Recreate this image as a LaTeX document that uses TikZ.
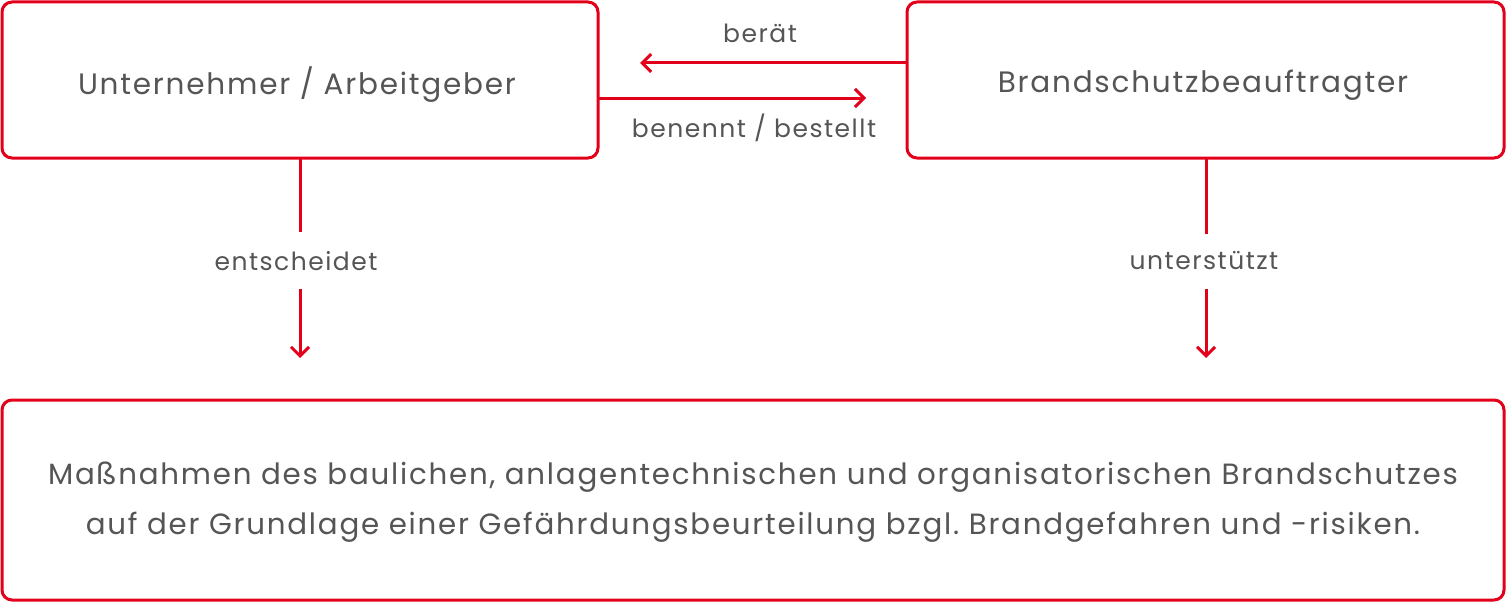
\documentclass[tikz,border=0pt]{standalone}
\usepackage{fontspec}
\setmainfont{Poppins}[LetterSpace=6]
\usetikzlibrary{arrows.meta}
\frenchspacing
\definecolor{bsred}{HTML}{E2001A}
\definecolor{bsgray}{HTML}{555555}
\tikzset{
  x=1pt, y=-1pt,
  boxstyle/.style={draw=bsred, line width=3pt, rounded corners=10pt},
  boxtext/.style={text=bsgray, font=\fontsize{29.5}{36}\selectfont},
  lbl/.style={text=bsgray, font=\fontsize{25}{30}\selectfont, inner sep=0pt},
  conn/.style={draw=bsred, line width=3pt},
  arr/.style={conn, -{Straight Barb[length=9pt,width=18pt,line width=3pt]}}
}
\begin{document}
\begin{tikzpicture}
\useasboundingbox (0,0) rectangle (1506,602);
\draw[boxstyle] (2,2) rectangle (598,158);
\draw[boxstyle] (907,2) rectangle (1504,158);
\draw[boxstyle] (2,400) rectangle (1504,600);
\node[boxtext] (ua) at (297,85) {Unternehmer / Arbeitgeber};
\node[boxtext] (bb) at (1203,85) {Brandschutzbeauftragter};
\node[boxtext, align=center, font=\fontsize{29.3}{50}\selectfont] (mass) at (753,502)
  {Maßnahmen des baulichen, anlagentechnischen und organisatorischen Brandschutzes\\
   auf der Grundlage einer Gefährdungsbeurteilung bzgl. Brandgefahren und -risiken.};
\coordinate (b1r) at (598,98);
\coordinate (b2l) at (907,63);
\coordinate (t1) at (640,63);
\coordinate (t2) at (866,98);
\draw[arr] (b2l) -- (t1);
\draw[arr] (b1r) -- (t2);
\node[lbl] (berat) at (760,33) {berät};
\node[lbl] (benennt) at (754,128) {benennt / bestellt};
\coordinate (l0) at (300,158);
\coordinate (l1) at (300,232);
\coordinate (l2) at (300,289);
\coordinate (l3) at (300,358);
\node[lbl] (ent) at (296,261) {entscheidet};
\draw[conn] (l0) -- (l1);
\draw[arr] (l2) -- (l3);
\coordinate (r0) at (1206,158);
\coordinate (r1) at (1206,234);
\coordinate (r2) at (1206,289);
\coordinate (r3) at (1206,358);
\node[lbl] (unt) at (1204,261) {unterstützt};
\draw[conn] (r0) -- (r1);
\draw[arr] (r2) -- (r3);
\end{tikzpicture}
\end{document}
